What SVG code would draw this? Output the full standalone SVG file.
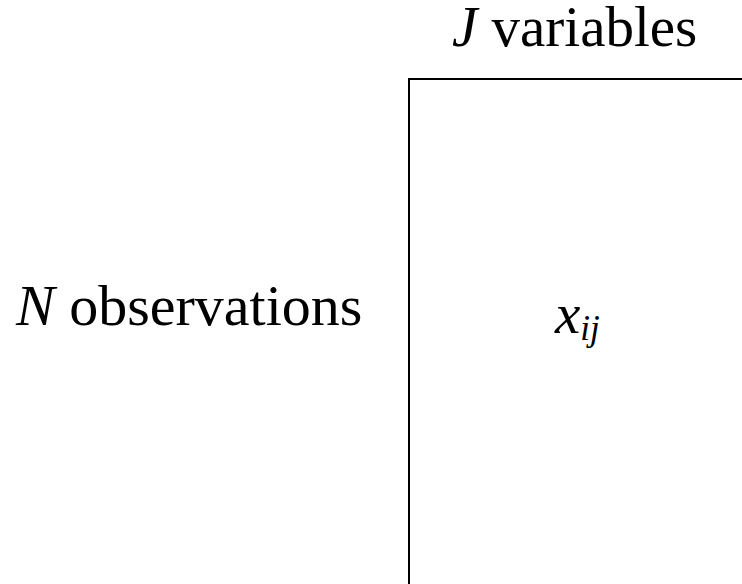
<svg xmlns="http://www.w3.org/2000/svg" width="742" height="584" viewBox="0 0 742 584">
<rect width="742" height="584" fill="#fff"/>
<g id="matrix">
<path d="M409,590 V79 H750" fill="none" stroke="#000" stroke-width="2"/>
<text x="555" y="333" font-family="Liberation Serif, serif" font-size="57" font-style="italic">x<tspan font-size="35" dy="7">ij</tspan></text>
</g>
<g id="label-columns">
<text x="452" y="46" font-family="Liberation Serif, serif" font-size="57"><tspan font-style="italic">J</tspan> variables</text>
</g>
<g id="label-rows">
<text x="16" y="325" font-family="Liberation Serif, serif" font-size="58"><tspan font-style="italic">N</tspan> observations</text>
</g>
<g id="connectors"/>
</svg>
